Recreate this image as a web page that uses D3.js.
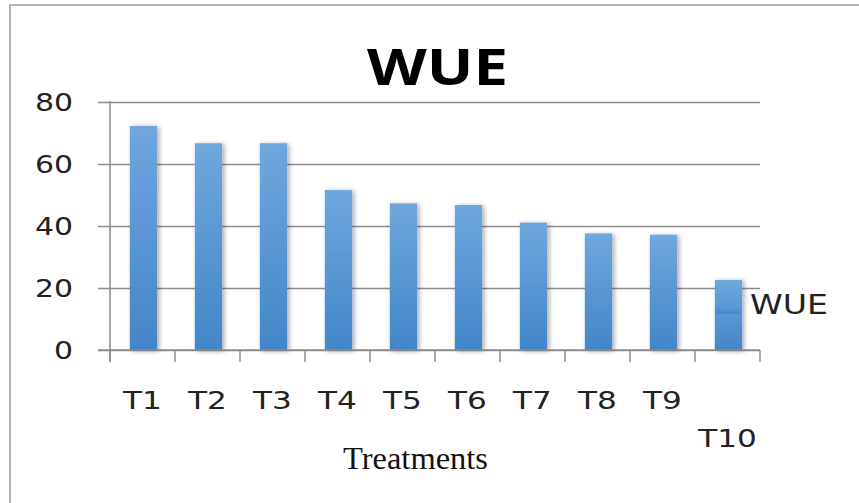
<!DOCTYPE html>
<html>
<head>
<meta charset="utf-8">
<script src="https://cdn.jsdelivr.net/npm/d3@7/dist/d3.min.js"></script>
<style>
  html, body { margin: 0; padding: 0; background: #fff; }
  svg { display: block; }
</style>
</head>
<body>
<div id="chart"></div>
<script>
// WUE by treatment
const categories = ["T1", "T2", "T3", "T4", "T5", "T6", "T7", "T8", "T9", "T10"];
const wueValues = [72.3, 66.7, 66.7, 51.6, 47.3, 46.8, 41.1, 37.6, 37.2, 22.6];
const yTicks = [0, 20, 40, 60, 80];
const seriesName = "WUE";
const chartTitle = "WUE";
const xTitle = "Treatments";

const W = 859, H = 503;
const plot = { left: 110, right: 760, top: 102, bottom: 350 };
const stretch = 1.22; // wide glyphs for the sans labels

const svg = d3.select("#chart").append("svg")
  .attr("width", W).attr("height", H);

const defs = svg.append("defs");
const grad = defs.append("linearGradient")
  .attr("id", "barFill").attr("x1", 0).attr("y1", 0).attr("x2", 0).attr("y2", 1);
grad.append("stop").attr("offset", "0%").attr("stop-color", "#6fa7dd");
grad.append("stop").attr("offset", "100%").attr("stop-color", "#4286c9");

const keyGrad = defs.append("linearGradient")
  .attr("id", "keyFill").attr("x1", 0).attr("y1", 0).attr("x2", 0).attr("y2", 1);
keyGrad.append("stop").attr("offset", "0%").attr("stop-color", "#66a0da");
keyGrad.append("stop").attr("offset", "70%").attr("stop-color", "#5a97d6");
keyGrad.append("stop").attr("offset", "100%").attr("stop-color", "#4386c9");

const shadow = defs.append("filter").attr("id", "barShadow")
  .attr("x", "-40%").attr("y", "-10%").attr("width", "180%").attr("height", "130%");
shadow.append("feDropShadow")
  .attr("dx", 2).attr("dy", 1).attr("stdDeviation", 2.5)
  .attr("flood-color", "#000").attr("flood-opacity", 0.35);

// chart frame (top and left edges)
svg.append("path")
  .attr("d", `M10,${H} L10,5 L${W},5`)
  .attr("fill", "none").attr("stroke", "#b3b3b3").attr("stroke-width", 2);

const x = d3.scaleBand().domain(categories).range([plot.left, plot.right]).padding(0);
const y = d3.scaleLinear().domain([0, 80]).range([plot.bottom, plot.top]);

const lineColor = "#8c8c8c";

// horizontal gridlines with outward tick marks
const yAxis = d3.axisLeft(y).tickValues(yTicks)
  .tickSize(-(plot.right - plot.left)).tickSizeOuter(0).tickFormat("");
const gy = svg.append("g").attr("transform", `translate(${plot.left},0)`).call(yAxis);
gy.select(".domain").remove();
gy.selectAll(".tick line").attr("stroke", lineColor).attr("stroke-width", 1.5)
  .attr("x1", -12);

// bars
const bw = x.bandwidth() * 0.42;
svg.append("g").selectAll("rect").data(wueValues).join("rect")
  .attr("x", (d, i) => x(categories[i]) + (x.bandwidth() - bw) / 2 + 1)
  .attr("y", d => y(d))
  .attr("width", bw)
  .attr("height", d => y(0) - y(d))
  .attr("fill", "url(#barFill)")
  .attr("filter", "url(#barShadow)");

// y axis line
svg.append("line")
  .attr("x1", plot.left).attr("x2", plot.left)
  .attr("y1", plot.top - 1).attr("y2", plot.bottom + 12)
  .attr("stroke", lineColor).attr("stroke-width", 1.5);

// x axis with category boundary ticks
const xAxis = d3.axisBottom(x).tickSize(0).tickFormat("");
const gx = svg.append("g").attr("transform", `translate(0,${plot.bottom})`).call(xAxis);
gx.select(".domain").remove();
svg.append("line")
  .attr("x1", plot.left - 12).attr("x2", plot.right)
  .attr("y1", y(0)).attr("y2", y(0))
  .attr("stroke", lineColor).attr("stroke-width", 1.5);
const bounds = categories.map(c => x(c)).concat([x.range()[1]]);
svg.append("g").selectAll("line").data(bounds).join("line")
  .attr("x1", d => d).attr("x2", d => d)
  .attr("y1", y(0)).attr("y2", y(0) + 12)
  .attr("stroke", lineColor).attr("stroke-width", 1.5);

const sans = "'DejaVu Sans', Verdana, sans-serif";

// y tick labels
svg.append("g").selectAll("text").data(yTicks).join("text")
  .attr("transform", d => `translate(73,${y(d) + 9}) scale(${stretch},1)`)
  .attr("text-anchor", "end")
  .attr("font-family", sans).attr("font-size", 24.5).attr("fill", "#222")
  .text(d => d);

// x tick labels, the last one drops to a second row
svg.append("g").selectAll("text").data(categories).join("text")
  .attr("transform", (d, i) => {
    const cx = x(d) + x.bandwidth() / 2;
    const by = i === categories.length - 1 ? 447 : 409;
    return `translate(${cx},${by}) scale(${stretch},1)`;
  })
  .attr("text-anchor", "middle")
  .attr("font-family", sans).attr("font-size", 25.5).attr("fill", "#222")
  .text(d => d);

// title
svg.append("text")
  .attr("x", 367).attr("y", 85)
  .attr("textLength", 141).attr("lengthAdjust", "spacingAndGlyphs")
  .attr("font-family", "'Open Sans', sans-serif").attr("font-weight", 700)
  .attr("font-size", 51).attr("fill", "#000")
  .text(chartTitle);

// x axis title
svg.append("text")
  .attr("x", 343).attr("y", 469)
  .attr("textLength", 145).attr("lengthAdjust", "spacingAndGlyphs")
  .attr("font-family", "'Liberation Serif', 'Times New Roman', serif")
  .attr("font-size", 31).attr("fill", "#111")
  .text(xTitle);

// legend
svg.append("rect")
  .attr("x", 715).attr("y", 293).attr("width", 26).attr("height", 21)
  .attr("fill", "url(#keyFill)");
svg.append("text")
  .attr("x", 750).attr("y", 314)
  .attr("textLength", 78).attr("lengthAdjust", "spacingAndGlyphs")
  .attr("font-family", sans).attr("font-size", 27).attr("fill", "#222")
  .text(seriesName);
</script>
</body>
</html>
